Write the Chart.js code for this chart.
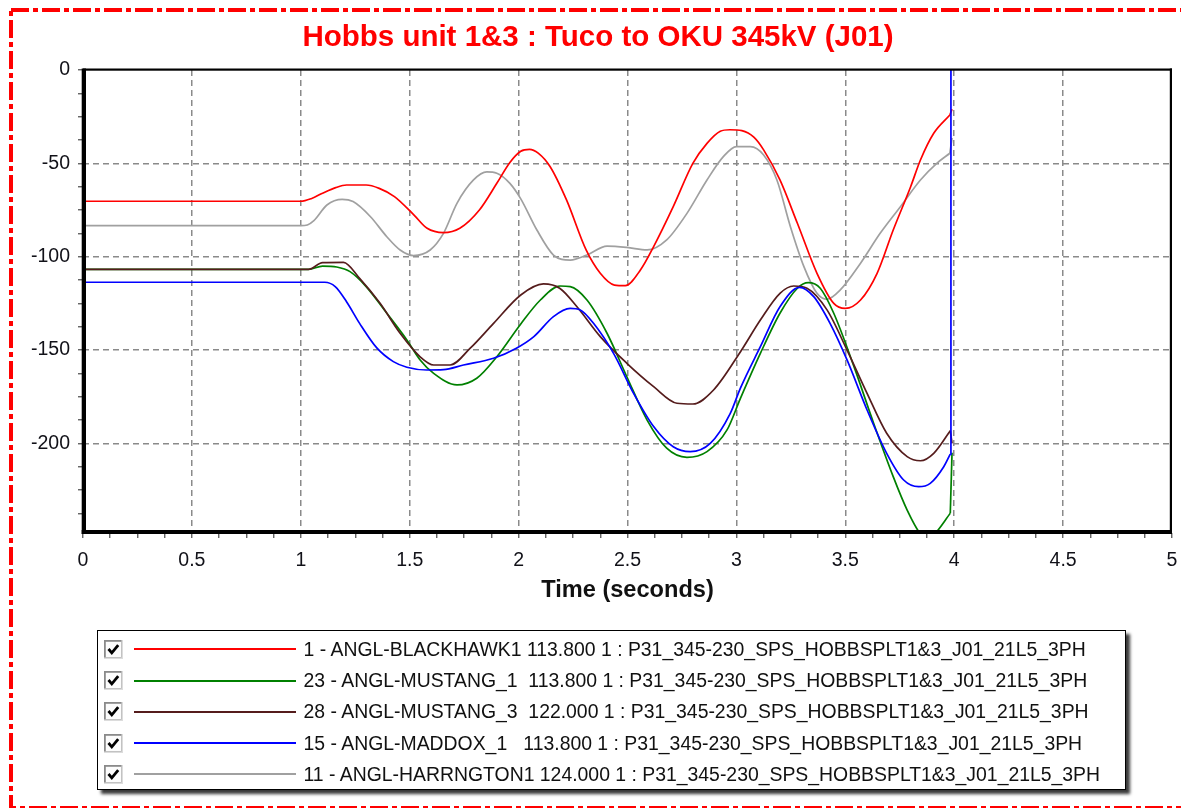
<!DOCTYPE html>
<html>
<head>
<meta charset="utf-8">
<title>Hobbs unit 1&amp;3 : Tuco to OKU 345kV (J01)</title>
<script src="https://cdn.jsdelivr.net/npm/chart.js@4.4.1/dist/chart.umd.min.js"></script>
<style>
  html, body { margin: 0; padding: 0; background: #fff; }
  #wrap { position: relative; width: 1181px; height: 808px; overflow: hidden;
          font-family: "Liberation Sans", Arial, sans-serif; }
  #chart { position: absolute; left: 0; top: 0; }
  #legend { position: absolute; left: 97px; top: 630px; width: 1029px; height: 160px;
            box-sizing: border-box; border: 1.5px solid #000; background: #fff;
            box-shadow: 4px 4px 3px #3a3a3a; }
  .row { position: absolute; left: 0; width: 100%; height: 31.25px; }
  .chk { position: absolute; left: 5.5px; top: 6px; width: 19px; height: 19px; }
  .swatch { position: absolute; left: 35.5px; width: 162px; height: 2px; top: 14.6px; }
  .txt { position: absolute; left: 205.5px; top: 0; height: 31.25px; line-height: 31.25px;
         font-size: 19.4px; color: #111; white-space: pre; }
  #border { position: absolute; left: 0; top: 0; pointer-events: none; }
</style>
</head>
<body>
<div id="wrap">
  <canvas id="chart" width="1181" height="808"></canvas>
  <div id="legend"></div>
  <svg id="border" width="1181" height="808">
    <rect x="11" y="10" width="1200" height="798" fill="none" stroke="#ff0000"
          stroke-width="4" stroke-dasharray="18 4 5 4"/>
  </svg>
</div>
<script>
// Rotor angle traces (degrees) against simulation time (seconds)
const titleText = 'Hobbs unit 1&3 : Tuco to OKU 345kV (J01)';
const xTitle = 'Time (seconds)';

const xLabelValues = [0, 0.5, 1, 1.5, 2, 2.5, 3, 3.5, 4, 4.5, 5];
const yLabelValues = [0, -50, -100, -150, -200];
const xMin = 0, xMax = 5, xMinorStep = 0.125;
const yMin = -248, yMax = 0, yMinorStep = 12.5;

const labelBlackhawk = '1 - ANGL-BLACKHAWK1 113.800 1 : P31_345-230_SPS_HOBBSPLT1&3_J01_21L5_3PH';
const labelMustang1  = '23 - ANGL-MUSTANG_1  113.800 1 : P31_345-230_SPS_HOBBSPLT1&3_J01_21L5_3PH';
const labelMustang3  = '28 - ANGL-MUSTANG_3  122.000 1 : P31_345-230_SPS_HOBBSPLT1&3_J01_21L5_3PH';
const labelMaddox    = '15 - ANGL-MADDOX_1   113.800 1 : P31_345-230_SPS_HOBBSPLT1&3_J01_21L5_3PH';
const labelHarrngton = '11 - ANGL-HARRNGTON1 124.000 1 : P31_345-230_SPS_HOBBSPLT1&3_J01_21L5_3PH';

// The last sample of each trace is the numerical blow-up at the end of the run
const timeBlackhawk = [0, 1.0, 1.05, 1.10, 1.16, 1.21, 1.30, 1.36, 1.43, 1.52, 1.58, 1.655, 1.73, 1.82, 1.90, 1.96, 2.01, 2.05, 2.09, 2.145, 2.22, 2.31, 2.375, 2.44, 2.49, 2.56, 2.62, 2.71, 2.80, 2.865, 2.926, 2.97, 3.025, 3.08, 3.125, 3.20, 3.28, 3.37, 3.447, 3.50, 3.57, 3.646, 3.72, 3.80, 3.845, 3.906, 3.98, 3.99];
const angleBlackhawk = [-70.3, -70.3, -68.8, -66, -63, -61.6, -61.6, -63.4, -67.8, -77.7, -84.8, -87.1, -84.8, -75, -60.7, -49.5, -43.5, -42.5, -44.5, -51.8, -69.6, -96.4, -108.9, -115.2, -115.5, -107, -94.6, -73.2, -50, -39.3, -32.8, -32, -32.5, -36, -42.8, -58.9, -82.1, -108.9, -125, -127.7, -123.2, -108.9, -85.7, -62.5, -48.2, -33.9, -24.1, -21];

const timeMustang1 = [0, 1.035, 1.10, 1.165, 1.226, 1.30, 1.395, 1.487, 1.548, 1.61, 1.717, 1.808, 1.90, 2.01, 2.10, 2.19, 2.237, 2.314, 2.406, 2.497, 2.59, 2.68, 2.773, 2.865, 2.957, 3.018, 3.11, 3.20, 3.28, 3.33, 3.385, 3.447, 3.54, 3.63, 3.72, 3.784, 3.845, 3.875, 3.906, 3.982, 3.99];
const angleMustang1 = [-106.8, -106.8, -105, -105.5, -108, -116, -130.3, -144.6, -155.3, -162.5, -168.7, -165.1, -153.6, -136, -123.2, -115.7, -116, -123.2, -141, -164.3, -187.5, -202.6, -207.5, -204.4, -192.8, -176, -151.8, -130.3, -116.9, -113.9, -116.9, -130.3, -158.9, -189.2, -217.8, -235.7, -248.5, -251, -249, -237.4, -205];

const timeMustang3 = [0, 1.035, 1.10, 1.196, 1.27, 1.364, 1.456, 1.548, 1.61, 1.686, 1.778, 1.885, 2.01, 2.114, 2.19, 2.268, 2.375, 2.497, 2.62, 2.727, 2.80, 2.895, 3.018, 3.11, 3.20, 3.263, 3.324, 3.416, 3.508, 3.60, 3.69, 3.784, 3.845, 3.906, 3.982, 3.99];
const angleMustang3 = [-106.8, -106.8, -103.2, -103, -111.6, -125, -141, -153.6, -158, -158, -149, -135.7, -120.5, -114.6, -117, -126.8, -142.8, -157.1, -169.6, -178.5, -178.9, -171.4, -151, -133.9, -119.6, -115.7, -116.9, -128.5, -150, -173.2, -194.6, -207.1, -209.3, -205.3, -193.2, -200];

const timeMaddox = [0, 1.11, 1.158, 1.21, 1.27, 1.35, 1.425, 1.487, 1.578, 1.655, 1.747, 1.885, 1.99, 2.07, 2.16, 2.237, 2.283, 2.344, 2.436, 2.528, 2.62, 2.71, 2.788, 2.88, 2.972, 3.018, 3.11, 3.20, 3.29, 3.355, 3.43, 3.508, 3.60, 3.69, 3.768, 3.837, 3.89, 3.952, 3.982, 3.985];
const angleMaddox = [-113.7, -113.7, -116, -124.1, -135.7, -149, -156.2, -159.2, -160.7, -160.5, -158, -154.4, -149, -142.8, -132.1, -127.7, -128.5, -135.7, -151.8, -173.2, -191, -201.8, -204.4, -200, -183.9, -170.5, -148.2, -126.8, -116.4, -121.4, -135.7, -155.3, -182.1, -205.3, -219.6, -223.2, -221.4, -212.5, -205.7, 60];

const timeHarrngton = [0, 1.0, 1.03, 1.06, 1.12, 1.19, 1.24, 1.32, 1.395, 1.456, 1.517, 1.594, 1.655, 1.717, 1.793, 1.854, 1.90, 1.96, 2.01, 2.084, 2.16, 2.237, 2.314, 2.406, 2.497, 2.59, 2.68, 2.773, 2.865, 2.94, 3.00, 3.064, 3.125, 3.186, 3.248, 3.31, 3.37, 3.416, 3.477, 3.57, 3.66, 3.753, 3.845, 3.92, 3.98, 3.99];
const angleHarrngton = [-83.4, -83.4, -83, -80.7, -72.3, -69.3, -70.5, -78.6, -89.3, -96.4, -99.4, -96.4, -87.5, -71.4, -58.9, -54.6, -55.3, -60.7, -69, -85.7, -99.1, -101.8, -99.1, -94.3, -95, -96.4, -91, -76.8, -58.9, -46.4, -41, -41, -45.5, -58.9, -83.9, -105.3, -119.6, -122.8, -117.8, -103.5, -87.5, -73.2, -58.9, -50, -44.6, -36.4];

const FONT = '"Liberation Sans", Arial, sans-serif';

function pairs(times, values) {
  return times.map((t, i) => ({ x: t, y: values[i] }));
}
// Each trace = smooth body + straight final jump (drawn as its own dataset)
function trace(label, times, values, color, order) {
  const common = { borderColor: color, backgroundColor: color, borderWidth: 1.7,
                   pointRadius: 0, pointHoverRadius: 0, fill: false, order };
  return [
    Object.assign({ label, data: pairs(times.slice(0, -1), values.slice(0, -1)),
                    cubicInterpolationMode: 'monotone' }, common),
    Object.assign({ label: label + ' (end)', isTail: true,
                    data: pairs(times.slice(-2), values.slice(-2)), tension: 0 }, common)
  ];
}
function stepTicks(lo, hi, step) {
  const out = [];
  const n = Math.round((hi - lo) / step);
  for (let i = 0; i <= n; i++) out.push(lo + i * step);
  return out;
}
const isLabelled = (list, v) => list.some(l => Math.abs(l - v) < 1e-9);

// Black plot frame: heavy left/bottom, lighter top/right
const plotFrame = {
  id: 'plotFrame',
  afterDatasetsDraw(chart) {
    const { ctx, chartArea: a } = chart;
    ctx.save();
    ctx.fillStyle = '#000';
    ctx.fillRect(a.left, a.top - 1.5, a.right - a.left, 2.2);
    ctx.fillRect(a.right - 2.2, a.top - 1.5, 2.2, a.bottom - a.top + 1.5);
    ctx.fillRect(a.left - 1.3, a.top - 1.5, 4.3, a.bottom - a.top + 2.5);
    ctx.fillRect(a.left - 1.3, a.bottom - 3, a.right - a.left + 1.3, 4);
    ctx.restore();
  }
};

// HTML legend with check boxes, built from the datasets
const checkLegend = {
  id: 'checkLegend',
  afterUpdate(chart) {
    const box = document.getElementById('legend');
    if (box.childElementCount) return;
    chart.data.datasets.filter(ds => !ds.isTail).forEach((ds, i) => {
      const row = document.createElement('div');
      row.className = 'row';
      row.style.top = (2.9 + i * 31.25) + 'px';
      row.innerHTML =
        '<svg class="chk" viewBox="0 0 19 19">' +
        '<rect x="0" y="0" width="19" height="19" fill="#dcdcdc"/>' +
        '<rect x="0" y="0" width="17.5" height="17.5" fill="#8a8a8a"/>' +
        '<rect x="1.8" y="1.8" width="15.4" height="15.4" fill="#fcfcfc"/>' +
        '<polyline points="4.5,9 7.8,12.8 14.2,5.2" fill="none" stroke="#000" stroke-width="2.8"/>' +
        '</svg>' +
        '<div class="swatch" style="background:' + ds.borderColor + '"></div>';
      const txt = document.createElement('div');
      txt.className = 'txt';
      txt.textContent = ds.label;
      row.appendChild(txt);
      box.appendChild(row);
    });
  }
};

const gridGrey = '#8a8a8a';

new Chart(document.getElementById('chart'), {
  type: 'line',
  data: {
    datasets: [
      ...trace(labelBlackhawk, timeBlackhawk, angleBlackhawk, '#ff0000', 1),
      ...trace(labelMustang1, timeMustang1, angleMustang1, '#008000', 2),
      ...trace(labelMustang3, timeMustang3, angleMustang3, '#551c1c', 1),
      ...trace(labelMaddox, timeMaddox, angleMaddox, '#0000ff', 0),
      ...trace(labelHarrngton, timeHarrngton, angleHarrngton, '#a0a0a0', 3)
    ]
  },
  options: {
    responsive: false,
    animation: false,
    events: [],
    layout: { padding: { left: 24, right: 9, top: 0, bottom: 200 } },
    plugins: {
      legend: { display: false },
      tooltip: { enabled: false },
      title: {
        display: true, text: titleText, color: '#ff0000',
        font: { family: FONT, size: 29.5, weight: 'bold', lineHeight: 1.2 },
        padding: { top: 19.8, bottom: 14.8 }
      }
    },
    scales: {
      x: {
        type: 'linear', min: xMin, max: xMax,
        afterBuildTicks: s => { s.ticks = stepTicks(xMin, xMax, xMinorStep).map(v => ({ value: v })); },
        afterFit: s => { s.height = 75; s.paddingLeft = 0; s.paddingRight = 0; },
        ticks: {
          autoSkip: false, maxRotation: 0, minRotation: 0, padding: 10.5,
          color: '#111118', font: { family: FONT, size: 19.5 },
          callback: v => isLabelled(xLabelValues, v) ? String(v) : ''
        },
        grid: {
          color: c => (c.tick && isLabelled(xLabelValues, c.tick.value) && c.tick.value > xMin && c.tick.value < xMax) ? gridGrey : 'rgba(0,0,0,0)',
          lineWidth: 1.5, drawTicks: true, tickLength: 5, tickWidth: 1.3,
          tickColor: '#555', tickBorderDash: []
        },
        border: { display: false, dash: [6, 4] },
        title: {
          display: true, text: xTitle, color: '#111',
          font: { family: FONT, size: 23.6, weight: 'bold', lineHeight: 1.2 },
          padding: { top: 0, bottom: 3 }
        }
      },
      y: {
        type: 'linear', min: yMin, max: yMax,
        afterBuildTicks: s => { s.ticks = stepTicks(-237.5, 0, yMinorStep).map(v => ({ value: v })); },
        afterFit: s => { s.width = 59; },
        ticks: {
          autoSkip: false, padding: 8,
          color: '#111118', font: { family: FONT, size: 19.5 },
          callback: v => isLabelled(yLabelValues, v) ? String(v) : ''
        },
        grid: {
          color: c => (c.tick && isLabelled(yLabelValues, c.tick.value) && c.tick.value < yMax) ? gridGrey : 'rgba(0,0,0,0)',
          lineWidth: 1.5, drawTicks: true, tickLength: 5, tickWidth: 1.3,
          tickColor: '#555', tickBorderDash: []
        },
        border: { display: false, dash: [6, 4] }
      }
    }
  },
  plugins: [plotFrame, checkLegend]
});
</script>
</body>
</html>
